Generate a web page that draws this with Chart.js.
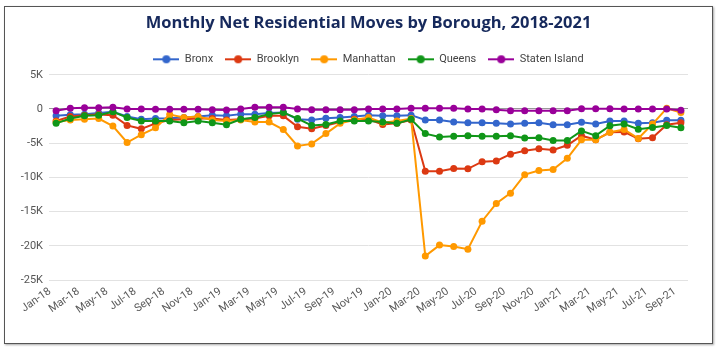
<!DOCTYPE html>
<html lang="en">
<head>
  <meta charset="UTF-8">
  <title>Monthly Net Residential Moves by Borough</title>
  <script src="https://cdn.jsdelivr.net/npm/chart.js"></script>
  <style>
    body {
      margin: 0;
      background: #fff;
      font-family: 'Roboto', sans-serif;
    }
    .chart-box {
      position: absolute;
      left: 4px;
      top: 6px;
      width: 707px;
      height: 336px;
      border: 1px solid #555;
      box-shadow: 1px 1px 2px rgba(0,0,0,0.35);
      background: #fff;
    }
    canvas {
      display: block;
    }
  </style>
</head>
<body>

<div class="chart-box">
  <canvas id="moves" width="707" height="336"></canvas>
</div>

<script>
  // months Jan-18 .. Sep-21
  const months = ['Jan-18','Feb-18','Mar-18','Apr-18','May-18','Jun-18','Jul-18','Aug-18','Sep-18','Oct-18','Nov-18','Dec-18',
    'Jan-19','Feb-19','Mar-19','Apr-19','May-19','Jun-19','Jul-19','Aug-19','Sep-19','Oct-19','Nov-19','Dec-19',
    'Jan-20','Feb-20','Mar-20','Apr-20','May-20','Jun-20','Jul-20','Aug-20','Sep-20','Oct-20','Nov-20','Dec-20',
    'Jan-21','Feb-21','Mar-21','Apr-21','May-21','Jun-21','Jul-21','Aug-21','Sep-21'];

  // net moves, thousands
  const bronx = [-1.0, -0.85, -0.75, -0.6, -0.4, -1.1, -1.5, -1.4, -1.35, -1.25, -1.1,
    -0.9, -1.0, -0.75, -0.75, -0.6, -0.5, -1.5, -1.6, -1.35, -1.25, -1.1,
    -0.9, -1.0, -1.0, -0.9, -1.6, -1.6, -1.9, -2.0, -2.0, -2.1, -2.2, -2.1, -2.0, -2.3, -2.3,
    -1.95, -2.2, -1.75, -1.75, -2.1, -2.0, -1.65, -1.65];
  const brooklyn = [-1.75, -1.1, -0.9, -0.8, -0.9, -2.4, -2.9, -2.1, -1.6, -1.5, -1.4,
    -1.4, -1.6, -1.5, -1.4, -1.0, -1.0, -2.6, -2.9, -2.4, -1.9, -1.5,
    -1.5, -2.25, -2.1, -1.6, -9.1, -9.1, -8.7, -8.75, -7.7, -7.6, -6.6, -6.1, -5.8, -6.0, -5.3,
    -3.9, -4.5, -3.4, -3.35, -4.35, -4.2, -2.3, -2.0];
  const manhattan = [-1.9, -1.6, -1.5, -1.4, -2.5, -4.9, -3.75, -2.75, -0.8, -1.25, -1.1,
    -1.6, -1.75, -1.6, -1.9, -1.9, -3.0, -5.4, -5.1, -3.6, -2.1, -1.6,
    -1.25, -2.0, -1.75, -1.4, -21.5, -19.9, -20.1, -20.5, -16.4, -13.8, -12.3, -9.6, -9.0, -8.85, -7.2,
    -4.5, -4.5, -3.4, -3.0, -4.3, -2.2, 0.1, -0.5];
  const queens = [-2.1, -1.4, -1.0, -0.9, -0.4, -1.25, -1.75, -1.75, -1.75, -2.0, -1.75,
    -2.0, -2.3, -1.5, -1.25, -0.75, -0.5, -1.4, -2.4, -2.25, -1.75, -1.75,
    -1.75, -1.9, -2.1, -1.5, -3.6, -4.1, -4.0, -3.9, -4.0, -4.0, -3.9, -4.25, -4.2, -4.6, -4.6,
    -3.2, -3.9, -2.45, -2.2, -2.95, -2.7, -2.4, -2.75];
  const statenIsland = [-0.25, 0.1, 0.2, 0.2, 0.25, 0, 0, -0.05, -0.05, -0.05, -0.05,
    -0.1, -0.15, 0, 0.25, 0.25, 0.25, 0, -0.1, -0.1, -0.1, -0.1,
    0, 0, 0, 0.1, 0.1, 0.1, 0.1, 0, 0, -0.1, -0.25, -0.25, -0.25, -0.25, -0.25,
    0.05, 0.05, 0.05, 0, 0, 0, 0, -0.2];

  const boroughs = ['Bronx', 'Brooklyn', 'Manhattan', 'Queens', 'Staten Island'];
  const colors = ['#3366cc', '#dc3912', '#ff9900', '#109618', '#990099'];
  const series = [bronx, brooklyn, manhattan, queens, statenIsland];

  // little line-with-dot marker for the legend
  function legendMarker(color) {
    const c = document.createElement('canvas');
    c.width = 26;
    c.height = 10;
    const g = c.getContext('2d');
    g.strokeStyle = color;
    g.lineWidth = 2;
    g.beginPath();
    g.moveTo(0, 5);
    g.lineTo(26, 5);
    g.stroke();
    g.fillStyle = color;
    g.beginPath();
    g.arc(13, 5, 4, 0, Math.PI * 2);
    g.fill();
    return c;
  }

  // centre title + legend over the plot area instead of the whole canvas
  const centreOnPlot = {
    id: 'centreOnPlot',
    afterLayout(chart) {
      const a = chart.chartArea;
      [chart.titleBlock, chart.legend].forEach(b => {
        if (!b) return;
        b.left = a.left;
        b.right = a.right;
        b.width = a.right - a.left;
      });
    }
  };

  const datasets = boroughs.map((name, i) => ({
    label: name,
    data: series[i],
    borderColor: colors[i],
    backgroundColor: colors[i],
    borderWidth: 2,
    pointRadius: 3.5,
    pointHoverRadius: 4,
    pointBorderWidth: 0,
    tension: 0,
    order: 5 - i
  }));

  new Chart(document.getElementById('moves'), {
    type: 'line',
    data: { labels: months, datasets: datasets },
    plugins: [centreOnPlot],
    options: {
      responsive: false,
      animation: false,
      layout: { padding: { left: 0, right: 24, top: 0, bottom: 0 } },
      plugins: {
        title: {
          display: true,
          text: 'Monthly Net Residential Moves by Borough, 2018-2021',
          color: '#16295c',
          font: { family: "'Open Sans', sans-serif", size: 16.5, weight: 'bold' },
          padding: { top: 6, bottom: 9 }
        },
        legend: {
          position: 'top',
          labels: {
            usePointStyle: true,
            pointStyleWidth: 26,
            boxHeight: 10,
            padding: 12,
            color: '#444',
            font: { family: 'Roboto', size: 11 },
            generateLabels(chart) {
              return chart.data.datasets.map((ds, i) => ({
                text: ds.label,
                fillStyle: ds.borderColor,
                strokeStyle: ds.borderColor,
                fontColor: '#444',
                lineWidth: 0,
                pointStyle: legendMarker(ds.borderColor),
                datasetIndex: i,
                hidden: false
              }));
            }
          }
        },
        tooltip: { enabled: false }
      },
      scales: {
        x: {
          offset: true,
          grid: { display: false },
          border: { display: false },
          afterFit(scale) { scale.height = 63; },
          ticks: {
            autoSkip: false,
            maxRotation: 35,
            minRotation: 35,
            padding: -3,
            labelOffset: -6,
            color: '#5a5a5a',
            font: { family: 'Roboto', size: 11 },
            callback(value, index) {
              return index % 2 === 0 ? months[index] : '';
            }
          }
        },
        y: {
          min: -25,
          max: 5,
          border: { display: false },
          afterFit(scale) { scale.width = 44; },
          grid: {
            drawTicks: false,
            color: ctx => ctx.tick && ctx.tick.value === 0 ? '#999' : '#e2e2e2',
            lineWidth: 1
          },
          ticks: {
            stepSize: 5,
            padding: 6,
            color: '#555',
            font: { family: 'Roboto', size: 11 },
            callback: v => v === 0 ? '0' : v + 'K'
          }
        }
      }
    }
  });
</script>

</body>
</html>
